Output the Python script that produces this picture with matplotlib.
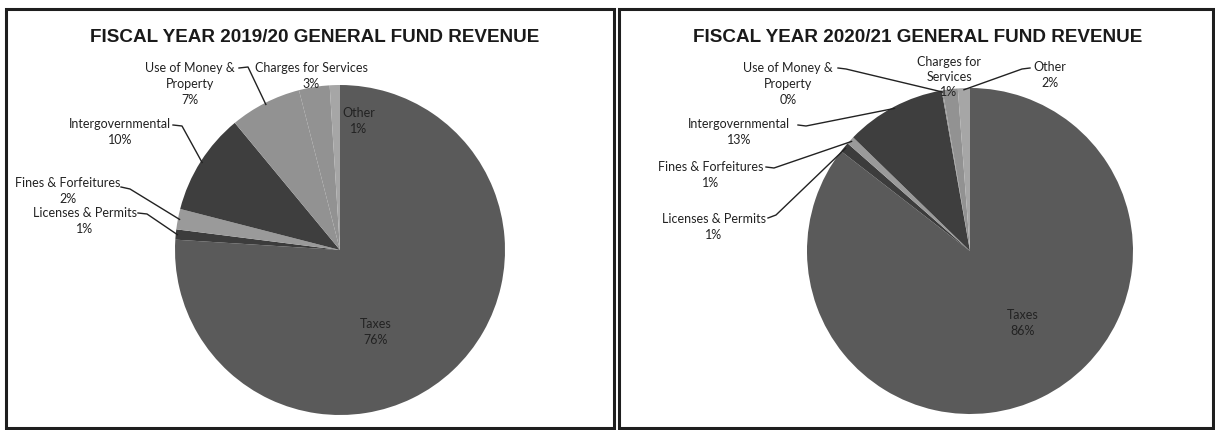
import matplotlib.pyplot as plt
import numpy as np

W, H = 1215, 430

categories = ["Taxes", "Licenses & Permits", "Fines & Forfeitures",
              "Intergovernmental", "Use of Money &\nProperty",
              "Charges for Services", "Other"]
colors = ["#5a5a5a", "#3c3c3c", "#9a9a9a", "#3e3e3e", "#929292", "#929292", "#a6a6a6"]

# FY 2019/20 shares (as drawn) and printed percentages
rev_1920 = [76, 1, 2, 10, 7, 3, 1]
pct_1920 = ["76%", "1%", "2%", "10%", "7%", "3%", "1%"]

# FY 2020/21 shares (as drawn) and printed percentages
rev_2021 = [86, 1, 0.8, 10, 0.1, 1.5, 1.2]
pct_2021 = ["86%", "1%", "1%", "13%", "0%", "1%", "2%"]

fig = plt.figure(figsize=(W / 100, H / 100), dpi=100)
ax = fig.add_axes([0, 0, 1, 1])

def fy(y):
    # pixel row (from top) -> data y
    return H - y

label_font = dict(family="Lato", fontsize=9, color="#222222", linespacing=1.35)


def draw_panel(vals, pcts, cx, cy, r, title, tx, names, label_pos, leader_pos):
    wedges, _ = ax.pie(vals, colors=colors, startangle=90, counterclock=False,
                       center=(cx, fy(cy)), radius=r,
                       wedgeprops=dict(linewidth=0))
    ax.text(tx, fy(37), title, ha="center", va="center", fontsize=13.6,
            fontweight="bold", family="Liberation Sans", color="#1a1a1a")
    for i, w in enumerate(wedges):
        txt = names[i] + "\n" + pcts[i]
        lx, ly = label_pos[i]
        ax.text(lx, fy(ly), txt, ha="center", va="center", **label_font)
        if leader_pos[i] is not None:
            (sx, sy), (kx, ky) = leader_pos[i]
            ang = np.deg2rad((w.theta1 + w.theta2) / 2)
            ex, ey = cx + r * 0.99 * np.cos(ang), fy(cy) + r * 0.99 * np.sin(ang)
            ax.plot([sx, kx, ex], [fy(sy), fy(ky), ey], color="#222222", lw=1.0,
                    solid_joinstyle="round")


names_l = ["Taxes", "Licenses & Permits", "Fines & Forfeitures", "Intergovernmental",
           "Use of Money &\nProperty", "Charges for Services", "Other"]
pos_l = [(376, 332), (85, 221), (68, 191), (120, 132), (190, 84), (311, 76), (359, 121)]
lead_l = [None, ((138, 213), (147, 214)), ((121, 187), (130, 189)),
          ((173, 125), (182, 126)), ((239, 68), (248, 67)), None, None]
draw_panel(rev_1920, pct_1920, 340, 250, 165,
           "FISCAL YEAR 2019/20 GENERAL FUND REVENUE", 315, names_l, pos_l, lead_l)

names_r = ["Taxes", "Licenses & Permits", "Fines & Forfeitures", "Intergovernmental",
           "Use of Money &\nProperty", "Charges for\nServices", "Other"]
pos_r = [(1023, 323), (714, 227), (711, 175), (739, 132), (788, 84), (949, 77), (1050, 75)]
lead_r = [None, ((768, 218), (776, 215)), ((766, 167), (774, 168)),
          ((798, 125), (806, 126)), ((838, 68), (846, 69)), None,
          ((1030, 68), (1022, 69))]
draw_panel(rev_2021, pct_2021, 970, 251, 163,
           "FISCAL YEAR 2020/21 GENERAL FUND REVENUE", 918, names_r, pos_r, lead_r)

# panel frames
for x0, x1 in [(6, 614), (619, 1213)]:
    ax.add_patch(plt.Rectangle((x0, fy(428)), x1 - x0, 428 - 9, fill=False,
                               edgecolor="#1e1e1e", lw=2.2))

ax.set_xlim(0, W)
ax.set_ylim(0, H)
ax.set_aspect("equal")
ax.axis("off")

plt.savefig("out.png", dpi=100)
